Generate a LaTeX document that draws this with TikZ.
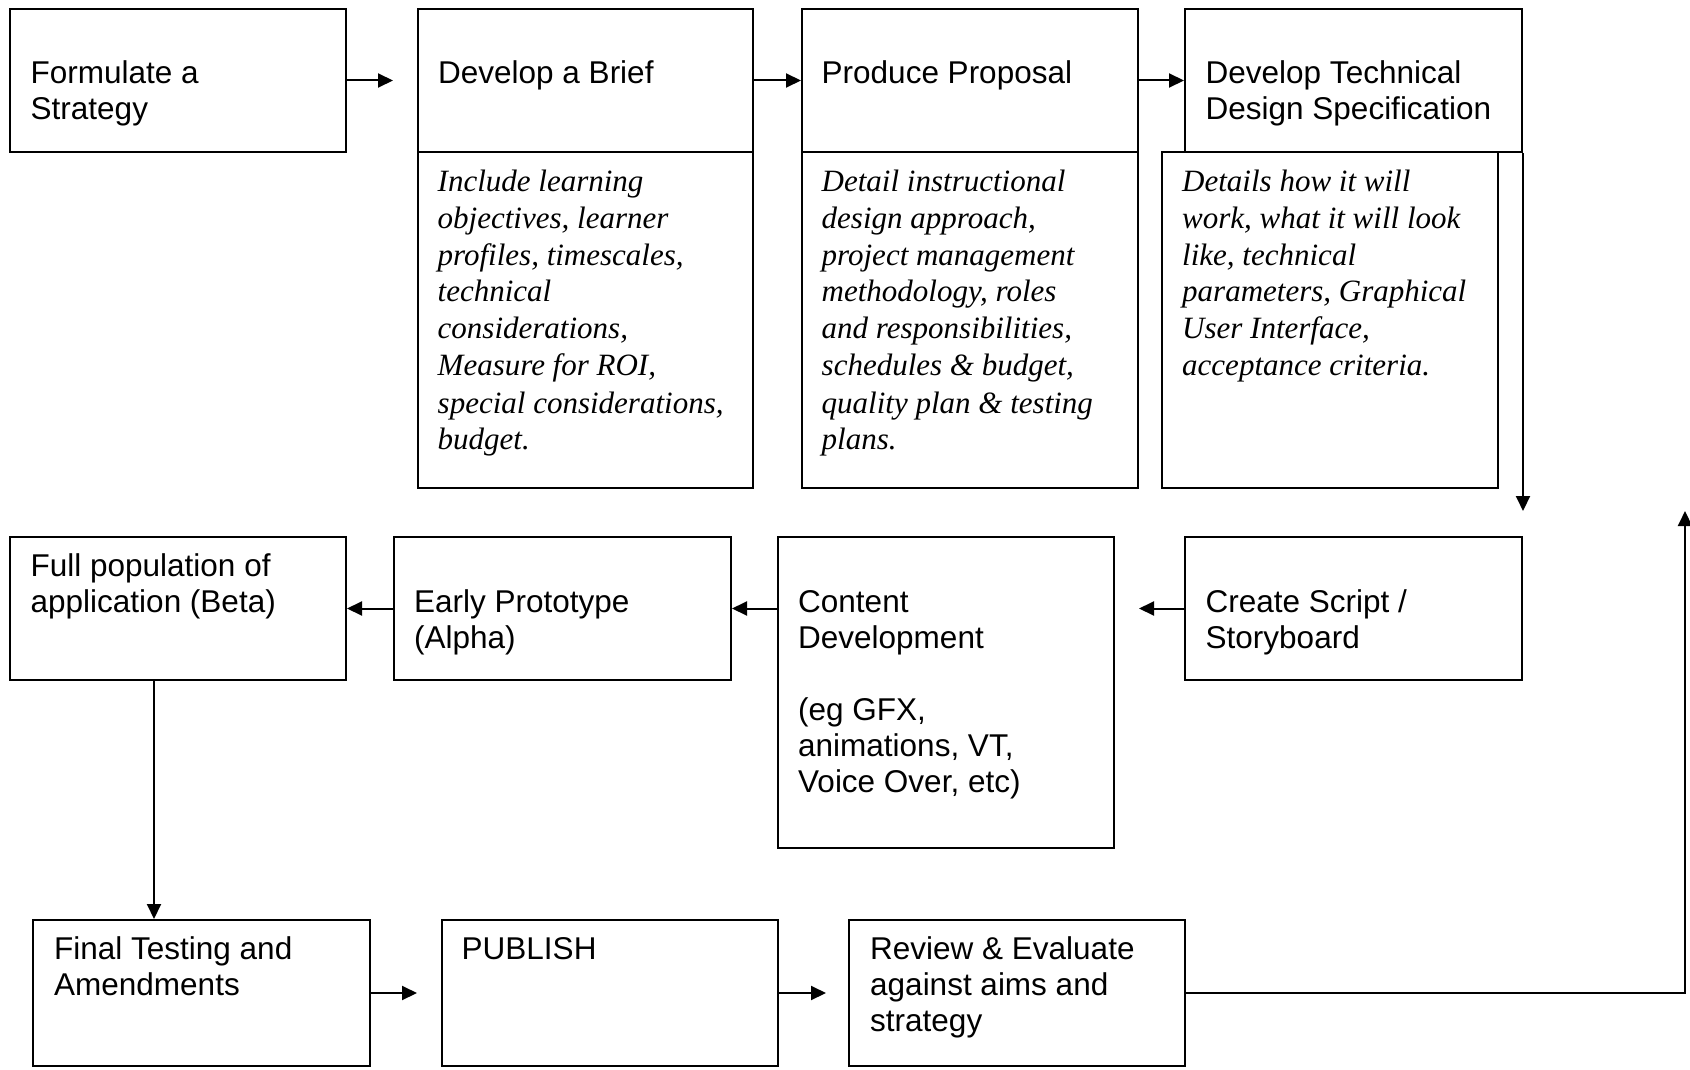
\documentclass[tikz,border=0pt]{standalone}
\usepackage{fontspec}
\setmainfont{Liberation Serif}
\setsansfont{Liberation Sans}
\usetikzlibrary{arrows.meta}

\tikzset{
  stepbox/.style={draw, line width=2pt, rectangle, inner sep=0pt, anchor=north west},
  title/.style={font=\sffamily\fontsize{31.5}{36}\selectfont, inner sep=0pt, anchor=base west},
  note/.style={font=\itshape\fontsize{31}{37}\selectfont, inner sep=0pt, anchor=base west},
  flow/.style={line width=2pt, -{Triangle[length=15pt,width=14pt]}},
}
\newcommand{\lines}[1]{\parbox[t]{420pt}{#1}}

\begin{document}
\begin{tikzpicture}[x=1pt,y=-1pt]
    \useasboundingbox (0,0) rectangle (1690,1070);

    % top row
    \node[stepbox, minimum width=336pt, minimum height=143pt] (strat) at (9,8) {};
    \node[stepbox, minimum width=335pt, minimum height=143pt] (brief) at (417,8) {};
    \node[stepbox, minimum width=335pt, minimum height=336pt] (briefnote) at (417,151) {};
    \node[stepbox, minimum width=336pt, minimum height=143pt] (proposal) at (801,8) {};
    \node[stepbox, minimum width=336pt, minimum height=336pt] (proposalnote) at (801,151) {};
    \node[stepbox, minimum width=337pt, minimum height=143pt] (techspec) at (1184,8) {};
    \node[stepbox, minimum width=336pt, minimum height=336pt] (technote) at (1161,151) {};

    \node[title] (strattxt) at ([shift={(21.5,75.3)}]strat.north west) {\lines{Formulate a\\Strategy}};
    \node[title] (brieftxt) at ([shift={(21,75.3)}]brief.north west) {\lines{Develop a Brief}};
    \node[title] (proposaltxt) at ([shift={(20.5,75.3)}]proposal.north west) {\lines{Produce Proposal}};
    \node[title] (techspectxt) at ([shift={(21.5,75.3)}]techspec.north west) {\lines{Develop Technical\\Design Specification}};

    \node[note] (briefnotetxt) at ([shift={(20.5,40)}]briefnote.north west)
      {\lines{Include learning\\objectives, learner\\profiles, timescales,\\technical\\considerations,\\Measure for ROI,\\special considerations,\\budget.}};
    \node[note] (proposalnotetxt) at ([shift={(20.5,40)}]proposalnote.north west)
      {\lines{Detail instructional\\design approach,\\project management\\methodology, roles\\and responsibilities,\\schedules \& budget,\\quality plan \& testing\\plans.}};
    \node[note] (technotetxt) at ([shift={(21,40)}]technote.north west)
      {\lines{Details how it will\\work, what it will look\\like, technical\\parameters, Graphical\\User Interface,\\acceptance criteria.}};

    % middle row
    \node[stepbox, minimum width=336pt, minimum height=143pt] (beta) at (9,536) {};
    \node[stepbox, minimum width=337pt, minimum height=143pt] (alpha) at (393,536) {};
    \node[stepbox, minimum width=336pt, minimum height=311pt] (content) at (777,536) {};
    \node[stepbox, minimum width=337pt, minimum height=143pt] (script) at (1184,536) {};

    \node[title] (betatxt) at ([shift={(21.5,40.5)}]beta.north west) {\lines{Full population of\\application (Beta)}};
    \node[title] (alphatxt) at ([shift={(21,76)}]alpha.north west) {\lines{Early Prototype\\(Alpha)}};
    \node[title] (contenttxt) at ([shift={(21,76)}]content.north west)
      {\lines{Content\\Development\\\strut\\(eg GFX,\\animations, VT,\\Voice Over, etc)}};
    \node[title] (scripttxt) at ([shift={(21.5,76)}]script.north west) {\lines{Create Script /\\Storyboard}};

    % bottom row
    \node[stepbox, minimum width=337pt, minimum height=146pt] (final) at (32,919) {};
    \node[stepbox, minimum width=336pt, minimum height=146pt] (publish) at (441,919) {};
    \node[stepbox, minimum width=336pt, minimum height=146pt] (review) at (848,919) {};

    \node[title] (finaltxt) at ([shift={(22,40.5)}]final.north west) {\lines{Final Testing and\\Amendments}};
    \node[title] (publishtxt) at ([shift={(20.5,40.5)}]publish.north west) {\lines{PUBLISH}};
    \node[title] (reviewtxt) at ([shift={(22,40.5)}]review.north west) {\lines{Review \& Evaluate\\against aims and\\strategy}};

    % connectors
    \coordinate (looptop) at (1685,511);
    \draw[flow, shorten >=24pt] (strat.east) -- (brief.west);
    \draw[flow] (brief.east) -- (proposal.west);
    \draw[flow] (proposal.east) -- (techspec.west);
    \draw[flow, shorten >=25pt] (techspec.south east) -- (script.north east);
    \draw[flow, shorten >=24pt] (script.west) -- (script.west -| content.east);
    \draw[flow] (content.west |- alpha.east) -- (alpha.east);
    \draw[flow] (alpha.west) -- (beta.east);
    \draw[flow] ([xshift=-24pt]beta.south) -- ([xshift=-24pt]beta.south |- final.north);
    \draw[flow, shorten >=24pt] (final.east) -- (publish.west);
    \draw[flow, shorten >=22pt] (publish.east) -- (review.west);
    \draw[flow] (review.east) -| (looptop);
\end{tikzpicture}
\end{document}
